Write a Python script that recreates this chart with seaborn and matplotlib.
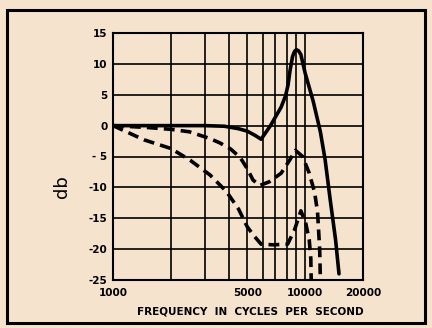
import matplotlib
matplotlib.use("Agg")
import matplotlib.pyplot as plt
from matplotlib.patches import Rectangle
import seaborn as sns

# Frequency response curves (frequency in Hz, level in dB)
solid_freq = [1000, 2000, 3000, 3800, 4500, 5000, 5500, 5900, 6600, 7500, 7900,
              8150, 8350, 8600, 8800, 9000, 9250, 9500, 10000, 11000, 12000,
              12700, 13500, 14400, 15000]
solid_db = [0, 0, 0, -0.1, -0.5, -0.9, -1.6, -2.2, 0.0, 3.0, 4.8,
            6.6, 9.0, 11.2, 12.0, 12.3, 12.1, 11.5, 8.5, 4.0, -1.0,
            -5.5, -12.0, -18.5, -24.0]

upper_freq = [1000, 1500, 2000, 2500, 3200, 3600, 4100, 4600, 5000, 5350, 5800,
              6500, 7500, 8300, 8900, 9700, 10500, 11200, 11600, 11900, 12000]
upper_db = [0, -0.3, -0.6, -1.0, -2.1, -2.8, -3.8, -5.2, -7.0, -8.8, -9.7,
            -9.1, -7.7, -5.6, -4.0, -5.0, -7.7, -10.8, -14.0, -20.0, -25.0]

lower_freq = [1000, 1450, 2000, 2520, 3200, 3900, 4500, 5000, 5400, 5900, 6800,
              8100, 8800, 9500, 10070, 10500, 10700, 10750]
lower_db = [0, -2.3, -3.7, -5.6, -8.0, -10.7, -13.5, -16.4, -17.8, -19.2, -19.3,
            -19.2, -16.9, -13.8, -15.8, -18.5, -21.5, -25.0]

grid_freqs = [1000, 2000, 3000, 4000, 5000, 6000, 7000, 8000, 9000, 10000, 20000]
x_labels = {1000: "1000", 5000: "5000", 10000: "10000", 20000: "20000"}
y_ticks = [15, 10, 5, 0, -5, -10, -15, -20, -25]
y_labels = ["15", "10", "5", "0", "- 5", "-10", "-15", "-20", "-25"]

bg = "#f5e3cd"
sns.set_style("white")
plt.rcParams["font.family"] = ["DejaVu Sans"]

fig = plt.figure(figsize=(4.32, 3.28), dpi=100, facecolor=bg)
ax = fig.add_axes([113 / 432, 1 - 280 / 328, 250 / 432, 247 / 328])
ax.set_facecolor(bg)

lw = 2.6
dash = (0, (3.0, 1.7))
sns.lineplot(x=solid_freq, y=solid_db, ax=ax, color="black", lw=lw,
             estimator=None, sort=False, zorder=5)
sns.lineplot(x=upper_freq, y=upper_db, ax=ax, color="black", lw=lw,
             estimator=None, sort=False, linestyle=dash, zorder=5)
sns.lineplot(x=lower_freq, y=lower_db, ax=ax, color="black", lw=lw,
             estimator=None, sort=False, linestyle=dash, zorder=5)

ax.set_xscale("log")
ax.set_xlim(1000, 20000)
ax.set_ylim(-25, 15)
ax.set_xticks(grid_freqs)
ax.set_xticklabels([x_labels.get(f, "") for f in grid_freqs])
ax.xaxis.set_minor_locator(matplotlib.ticker.NullLocator())
ax.set_yticks(y_ticks)
ax.set_yticklabels(y_labels)
ax.tick_params(axis="both", length=0, labelsize=7.5, labelcolor="black")
ax.tick_params(axis="y", pad=4)
ax.tick_params(axis="x", pad=6)
for lab in ax.get_xticklabels() + ax.get_yticklabels():
    lab.set_fontweight("bold")

ax.grid(True, color="black", lw=1.2)
ax.set_axisbelow(True)
for sp in ax.spines.values():
    sp.set_visible(True)
    sp.set_color("black")
    sp.set_linewidth(1.5)

ax.set_xlabel("")
ax.set_ylabel("")
fig.text(250 / 432, 1 - 311.5 / 328, "FREQUENCY  IN  CYCLES  PER  SECOND",
         ha="center", va="center", fontsize=7.5, fontweight="bold", color="black")
fig.text(62 / 432, 1 - 187 / 328, "db", rotation=90, ha="center", va="center",
         fontsize=13, color="black")

# outer frame around the figure
fig.patches.append(Rectangle((7 / 432, 1 - 323 / 328), 418 / 432, 313 / 328,
                             transform=fig.transFigure, fill=False,
                             edgecolor="black", lw=2.2))

fig.savefig("out.png", dpi=100, facecolor=bg)
